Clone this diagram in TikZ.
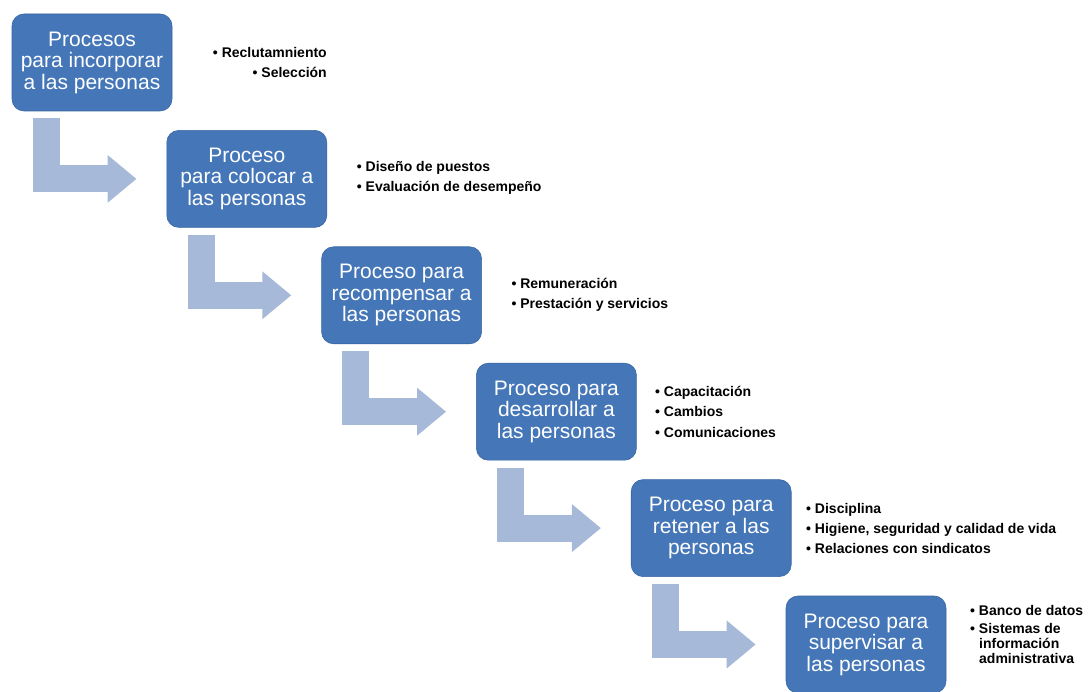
\documentclass[tikz,border=0pt]{standalone}
\usepackage{fontspec}
\setmainfont{Liberation Sans}
\usetikzlibrary{arrows.meta,calc}
\definecolor{boxblue}{RGB}{68,118,184}
\definecolor{boxedge}{RGB}{56,102,162}
\definecolor{arrowc}{RGB}{167,185,216}
\tikzset{
  procbox/.style={rectangle, rounded corners=12pt, fill=boxblue, draw=boxedge,
    line width=0.6pt, minimum width=160pt, minimum height=97pt, text=white,
    align=center, font=\fontsize{21}{21.5}\selectfont, inner sep=0pt},
  bent/.style={draw=arrowc, line width=27pt, line join=miter,
    -{Triangle[length=29pt,width=46pt]}},
  item/.style={anchor=base west, font=\bfseries\fontsize{14}{16}\selectfont,
    inner sep=0pt, text=black},
  itemr/.style={item, anchor=base east}
}
\begin{document}
\begin{tikzpicture}[x=1pt,y=-1pt]
\useasboundingbox (0,0) rectangle (1090,692);
\fill[white] (0,0) rectangle (1090,692);
\begin{scope}
\clip (0,0) rectangle (1090,692);
% boxes
\node[procbox] (b1) at (92,62.5) {Procesos\\para incorporar\\a las personas};
\node[procbox] (b2) at (246.8,178.9) {Proceso\\para colocar a\\las personas};
\node[procbox] (b3) at (401.6,295.3) {Proceso para\\recompensar a\\las personas};
\node[procbox] (b4) at (556.4,411.7) {Proceso para\\desarrollar a\\las personas};
\node[procbox] (b5) at (711.2,528.1) {Proceso para\\retener a las\\personas};
\node[procbox] (b6) at (866,644.5) {Proceso para\\supervisar a\\las personas};
% bent arrows
\draw[bent] ([xshift=34.5pt,yshift=-7pt]b1.south west) |- ([xshift=-30pt]b2.west);
\draw[bent] ([xshift=34.5pt,yshift=-7pt]b2.south west) |- ([xshift=-30pt]b3.west);
\draw[bent] ([xshift=34.5pt,yshift=-7pt]b3.south west) |- ([xshift=-30pt]b4.west);
\draw[bent] ([xshift=34.5pt,yshift=-7pt]b4.south west) |- ([xshift=-30pt]b5.west);
\draw[bent] ([xshift=34.5pt,yshift=-7pt]b5.south west) |- ([xshift=-30pt]b6.west);
% bullet lists
\node[itemr] (t11) at (327,58) {• Reclutamniento};
\node[itemr] (t12) at (327,77.7) {• Selección};
\node[item] (t21) at (356.7,171.7) {• Diseño de puestos};
\node[item] (t22) at (356.7,191.7) {• Evaluación de desempeño};
\node[item] (t31) at (511.3,288.5) {• Remuneración};
\node[item] (t32) at (511.3,308.5) {• Prestación y servicios};
\node[item] (t41) at (655,397) {• Capacitación};
\node[item] (t42) at (655,417) {• Cambios};
\node[item] (t43) at (655,438) {• Comunicaciones};
\node[item] (t51) at (806,513) {• Disciplina};
\node[item] (t52) at (806,533) {• Higiene, seguridad y calidad de vida};
\node[item] (t53) at (806,553) {• Relaciones con sindicatos};
\node[item] (t61) at (970,615) {• Banco de datos};
\node[item] (t62) at (970,633) {• Sistemas de};
\node[item] (t63) at (979,648) {información};
\node[item] (t64) at (979,663) {administrativa};
\end{scope}
\end{tikzpicture}
\end{document}
